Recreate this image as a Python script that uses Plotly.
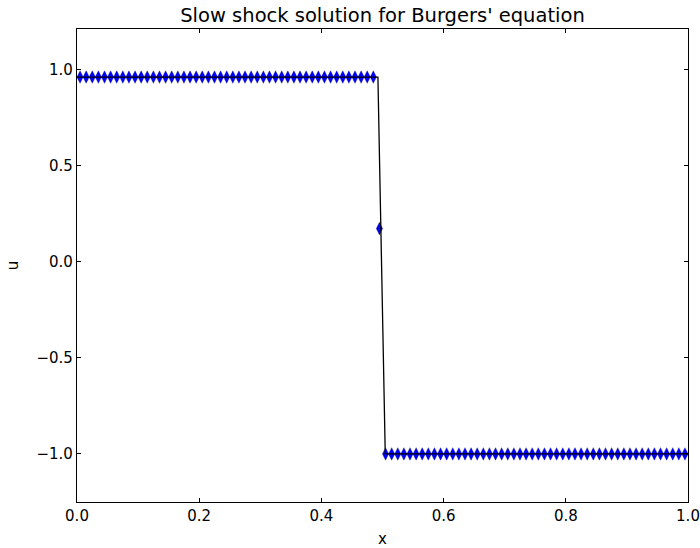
import plotly.graph_objects as go

# Cell-centred grid of 100 cells on [0, 1]
n_cells = 100
x_cells = [(i + 0.5) / n_cells for i in range(n_cells)]

# Numerical solution: left state, one smeared cell in the shock, right state
u_left = 0.96
u_shock = 0.172
u_right = -1.0
u_num = [u_left] * 49 + [u_shock] + [u_right] * 50

# Reference solution drawn as a line
x_ref = [0.0, 0.4925, 0.5045, 1.0]
u_ref = [0.96, 0.96, -1.0, -1.0]

x_ticks = [0.0, 0.2, 0.4, 0.6, 0.8, 1.0]
y_ticks = [-1.0, -0.5, 0.0, 0.5, 1.0]

font = "DejaVu Sans"

fig = go.Figure()
fig.add_trace(go.Scatter(
    x=x_cells, y=u_num, mode="markers",
    marker=dict(symbol="diamond-tall", size=9, color="#0000ff",
                line=dict(color="#000060", width=0.3)),
    showlegend=False,
))
fig.add_trace(go.Scatter(
    x=x_ref, y=u_ref, mode="lines",
    line=dict(color="#000000", width=1.3),
    showlegend=False,
))

axis_common = dict(
    showgrid=False, zeroline=False, automargin=False,
    showline=True, linecolor="#000000", linewidth=1.2, mirror="allticks",
    ticks="inside", ticklen=4, tickcolor="#000000", tickwidth=1,
    tickfont=dict(family=font, size=15, color="#000000"),
    tickformat=".1f",
)

fig.update_layout(
    width=700, height=548,
    margin=dict(l=77, r=12, t=29, b=46),
    paper_bgcolor="#ffffff", plot_bgcolor="#ffffff",
    title=dict(text="Slow shock solution for Burgers' equation",
               x=0.5, xref="paper", xanchor="center",
               y=1, yref="paper", yanchor="bottom", pad=dict(b=7),
               font=dict(family=font, size=19.5, color="#000000")),
    xaxis=dict(range=[0, 1], tickvals=x_ticks,
               title=dict(text="x", standoff=10,
                          font=dict(family=font, size=15, color="#000000")),
               **axis_common),
    yaxis=dict(range=[-1.25, 1.21], tickvals=y_ticks,
               title=dict(text="u", standoff=14,
                          font=dict(family=font, size=15, color="#000000")),
               **axis_common),
)

fig.write_html("out.html")
